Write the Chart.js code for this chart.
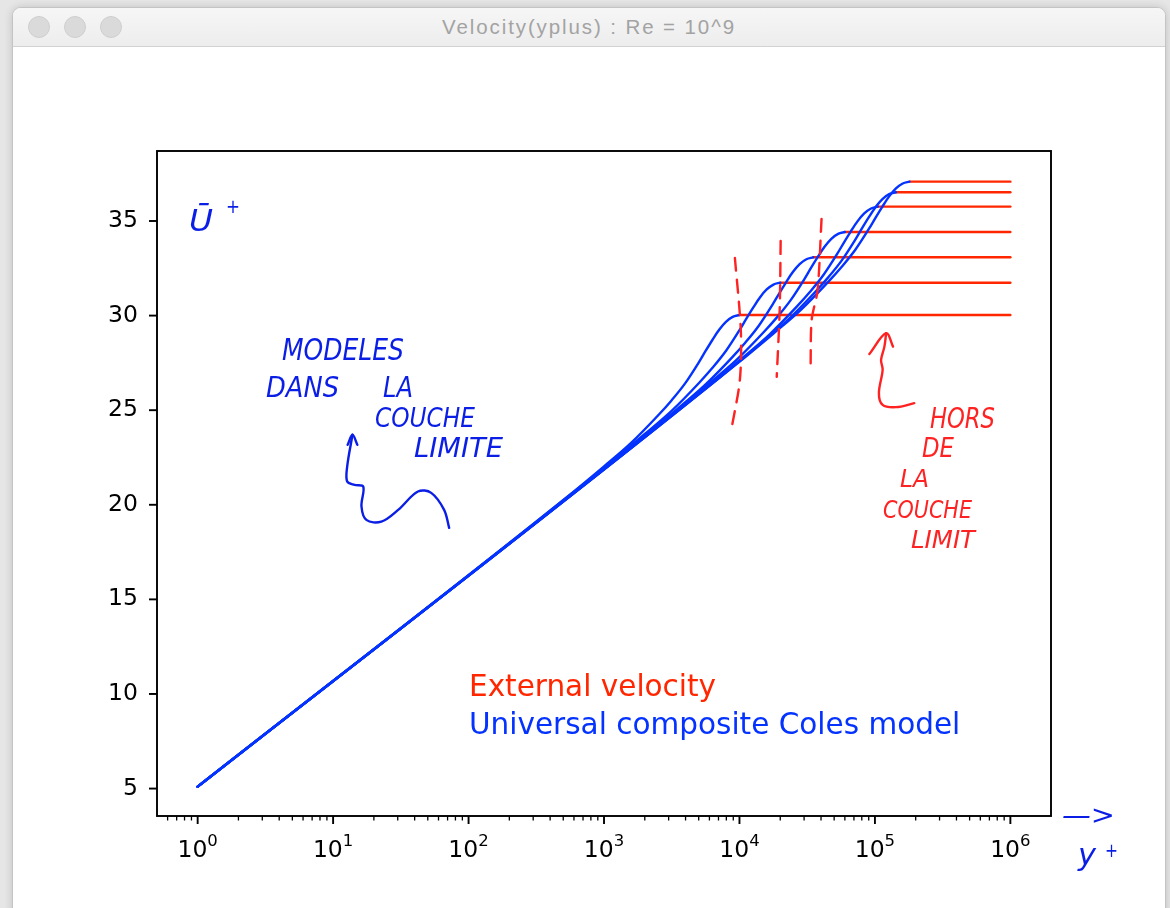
<!DOCTYPE html>
<html>
<head>
<meta charset="utf-8">
<title>Velocity(yplus) : Re = 10^9</title>
<script src="https://cdn.jsdelivr.net/npm/chart.js@4.4.1/dist/chart.umd.min.js"></script>
<style>
  html, body { margin: 0; padding: 0; }
  body { width: 1170px; height: 908px; overflow: hidden; background: #e6e6e6; position: relative; font-family: "Liberation Sans", Arial, sans-serif; }
  .window { position: absolute; left: 12px; top: 7px; width: 1152px; height: 930px; background: #fff; border: 1px solid #c4c4c4; border-radius: 9px 9px 0 0; box-shadow: 0 0 9px rgba(0,0,0,0.16); overflow: hidden; }
  .titlebar { height: 38px; background: linear-gradient(#f6f6f6, #ededed); border-bottom: 1px solid #d2d2d2; position: relative; }
  .light { position: absolute; top: 8px; width: 22px; height: 22px; border-radius: 50%; background: #dadada; border: 1px solid #cecece; box-sizing: border-box; }
  .title { position: absolute; left: 0; right: 0; top: 0; line-height: 38px; text-align: center; color: #a3a3a3; font-size: 20.5px; letter-spacing: 1.9px; }
  #chartBox { position: absolute; left: 0; top: 39px; }
</style>
</head>
<body>
<div class="window">
  <div class="titlebar">
    <div class="light" style="left:15px"></div>
    <div class="light" style="left:51px"></div>
    <div class="light" style="left:87px"></div>
    <div class="title">Velocity(yplus) : Re = 10^9</div>
  </div>
  <div id="chartBox"><canvas id="colesChart" width="1152" height="861"></canvas></div>
</div>
<script>
// --- ticks ---
const xTickMajor = [1, 10, 100, 1000, 1e4, 1e5, 1e6];
const xTickBase = '10';
const xTickExp = ['0', '1', '2', '3', '4', '5', '6'];
const yTicks = [5, 10, 15, 20, 25, 30, 35];

// --- universal composite Coles model, [y+, U+] ---
const coles1 = [[1, 5.1], [501, 20.25], [1000, 22.03], [1585, 23.27], [2512, 24.73], [3162, 25.53], [3981, 26.43],
  [5012, 27.53], [5623, 28.13], [6310, 28.71], [7079, 29.25], [7943, 29.67], [8913, 29.93], [10000, 30.03]];
const coles2 = [[1, 5.1], [1000, 21.96], [2000, 23.74], [3170, 24.98], [5024, 26.44], [6324, 27.24], [7962, 28.14],
  [10024, 29.24], [11246, 29.84], [12620, 30.42], [14158, 30.96], [15886, 31.38], [17826, 31.64], [20000, 31.74]];
const coles3 = [[1, 5.1], [1754, 23.30], [3500, 25.08], [5548, 26.32], [8792, 27.78], [11067, 28.58], [13934, 29.48],
  [17542, 30.58], [19681, 31.18], [22085, 31.76], [24777, 32.30], [27801, 32.72], [31196, 32.98], [35000, 33.08]];
const coles4 = [[1, 5.1], [3006, 24.64], [6000, 26.42], [9510, 27.66], [15072, 29.12], [18972, 29.92], [23886, 30.82],
  [30072, 31.92], [33738, 32.52], [37860, 33.10], [42474, 33.64], [47658, 34.06], [53478, 34.32], [60000, 34.42]];
const coles5 = [[1, 5.1], [5261, 25.98], [10500, 27.76], [16643, 29.00], [26376, 30.46], [33201, 31.26], [41801, 32.16],
  [52626, 33.26], [59042, 33.86], [66255, 34.44], [74330, 34.98], [83402, 35.40], [93587, 35.66], [105000, 35.76]];
const coles6 = [[1, 5.1], [7164, 26.74], [14300, 28.52], [22666, 29.76], [35922, 31.22], [45217, 32.02], [56928, 32.92],
  [71672, 34.02], [80409, 34.62], [90230, 35.20], [101229, 35.74], [113585, 36.16], [127456, 36.42], [143000, 36.52]];
const coles7 = [[1, 5.1], [9018, 27.30], [18000, 29.08], [28530, 30.32], [45216, 31.78], [56916, 32.58], [71658, 33.48],
  [90216, 34.58], [101214, 35.18], [113580, 35.76], [127422, 36.30], [142974, 36.72], [160434, 36.98], [180000, 37.08]];
const colesCurves = [coles1, coles2, coles3, coles4, coles5, coles6, coles7];

// --- external velocity: from the edge of the layer to y+ = 1e6 ---
const extStart = [1.0e4, 2.0e4, 3.5e4, 6.0e4, 1.05e5, 1.43e5, 1.8e5];
const extVelocity = [30.03, 31.74, 33.08, 34.42, 35.76, 36.52, 37.08];
const extEnd = 1e6;

// --- hand drawn marks (data units) ---
const dashA = [[9250, 33.05], [10230, 29.24], [10070, 26.60], [8790, 24.12]];
const dashB = [[20140, 33.94], [19810, 30.30], [18840, 26.76]];
const dashC = [[40360, 35.11], [37730, 31.35], [34120, 29.77], [33510, 27.34]];
const blueHook = [[71.9, 18.78], [66.0, 19.73], [53.0, 20.63], [42.3, 20.70], [30.2, 19.73], [22.7, 19.11], [17.6, 19.20],
  [16.2, 19.91], [16.7, 20.96], [14.4, 21.05], [12.7, 21.23], [12.7, 22.02], [13.9, 23.70]];
const blueHookHead = [[12.8, 23.17], [13.9, 23.70], [15.1, 23.17]];
const redHook = [[1.95e5, 25.37], [1.43e5, 25.16], [1.14e5, 25.28], [1.07e5, 25.90], [1.14e5, 27.13], [1.11e5, 27.66],
  [1.175e5, 28.36], [1.21e5, 29.07]];
const redHookHead = [[9.1e4, 27.97], [1.21e5, 29.07], [1.36e5, 28.36]];

// --- handwritten notes (canvas px) ---
const BLUE_INK = '#0a1ee6', RED_INK = '#ff2222';
const notes = [
  { t: 'Ū', x: 176, y: 184, w: 24, s: 30, c: BLUE_INK },
  { t: '+', x: 213, y: 166, w: 14, s: 20, c: BLUE_INK },
  { t: 'MODELES', x: 269, y: 313, w: 122, s: 30, c: BLUE_INK },
  { t: 'DANS', x: 253, y: 350, w: 73, s: 28, c: BLUE_INK },
  { t: 'LA', x: 370, y: 350, w: 30, s: 28, c: BLUE_INK },
  { t: 'COUCHE', x: 362, y: 380, w: 100, s: 26, c: BLUE_INK },
  { t: 'LIMITE', x: 401, y: 410, w: 89, s: 26, c: BLUE_INK },
  { t: '—>', x: 1049, y: 777, w: 53, s: 26, c: BLUE_INK },
  { t: 'y', x: 1065, y: 818, w: 18, s: 31, c: BLUE_INK },
  { t: '+', x: 1092, y: 810, w: 13, s: 19, c: BLUE_INK },
  { t: 'HORS', x: 917, y: 381, w: 65, s: 29, c: RED_INK },
  { t: 'DE', x: 909, y: 410, w: 32, s: 26, c: RED_INK },
  { t: 'LA', x: 887, y: 440, w: 29, s: 24, c: RED_INK },
  { t: 'COUCHE', x: 870, y: 471, w: 89, s: 24, c: RED_INK },
  { t: 'LIMIT', x: 898, y: 501, w: 64, s: 24, c: RED_INK }
];

const BLUE = '#0433ff', RED = '#ff2600';
const toXY = arr => arr.map(p => ({ x: p[0], y: p[1] }));

const datasets = [];
extStart.forEach((x0, i) => {
  datasets.push({ data: [{ x: x0, y: extVelocity[i] }, { x: extEnd, y: extVelocity[i] }],
    borderColor: RED, borderWidth: 2.4, order: 3 });
});
colesCurves.forEach(c => {
  datasets.push({ data: toXY(c), borderColor: BLUE, borderWidth: 2.4, cubicInterpolationMode: 'monotone', order: 2 });
});
[dashA, dashB, dashC].forEach(d => {
  datasets.push({ data: toXY(d), borderColor: RED_INK, borderWidth: 2.4, borderDash: [13, 9], tension: 0.3, order: 1 });
});
[[blueHook, BLUE_INK], [blueHookHead, BLUE_INK], [redHook, RED_INK], [redHookHead, RED_INK]].forEach(([d, c]) => {
  datasets.push({ data: toXY(d), borderColor: c, borderWidth: 2.4, tension: 0.35, order: 1 });
});

// frame, tick marks, x labels (10 with raised exponent), legend text and notes
const decorations = {
  id: 'decorations',
  afterDraw(chart) {
    const ctx = chart.ctx, a = chart.chartArea;
    const xs = chart.scales.x, ys = chart.scales.y;
    ctx.save();
    ctx.strokeStyle = '#000';
    xs.ticks.forEach(t => {
      const px = xs.getPixelForValue(t.value);
      const major = xTickMajor.includes(t.value);
      ctx.lineWidth = major ? 1.9 : 1.3;
      ctx.beginPath();
      ctx.moveTo(px, a.bottom);
      ctx.lineTo(px, a.bottom + (major ? 8 : 4.5));
      ctx.stroke();
    });
    ys.ticks.forEach(t => {
      const py = ys.getPixelForValue(t.value);
      ctx.lineWidth = 1.9;
      ctx.beginPath();
      ctx.moveTo(a.left, py);
      ctx.lineTo(a.left - 8, py);
      ctx.stroke();
    });
    ctx.lineWidth = 1.9;
    ctx.strokeRect(a.left, a.top, a.right - a.left, a.bottom - a.top);

    // x tick labels
    ctx.fillStyle = '#000';
    ctx.textAlign = 'left';
    ctx.textBaseline = 'alphabetic';
    xTickMajor.forEach((v, i) => {
      const px = xs.getPixelForValue(v);
      ctx.font = '23.5px "DejaVu Sans"';
      const wb = ctx.measureText(xTickBase).width;
      ctx.font = '16.5px "DejaVu Sans"';
      const we = ctx.measureText(xTickExp[i]).width;
      const x0 = px - (wb + we) / 2;
      ctx.font = '23.5px "DejaVu Sans"';
      ctx.fillText(xTickBase, x0, a.bottom + 41);
      ctx.font = '16.5px "DejaVu Sans"';
      ctx.fillText(xTickExp[i], x0 + wb, a.bottom + 30);
    });

    // legend (text only, like the matplotlib one)
    ctx.font = '29.5px "DejaVu Sans"';
    ctx.fillStyle = RED;
    ctx.fillText('External velocity', a.left + 312, a.top + 545);
    ctx.fillStyle = BLUE;
    ctx.fillText('Universal composite Coles model', a.left + 312, a.top + 583);

    // handwritten notes
    notes.forEach(n => {
      ctx.font = 'italic ' + n.s + 'px "DejaVu Sans"';
      const w = ctx.measureText(n.t).width;
      ctx.save();
      ctx.translate(n.x, n.y);
      ctx.scale(n.w / w, 1);
      ctx.fillStyle = n.c;
      ctx.fillText(n.t, 0, 0);
      ctx.restore();
    });
    ctx.restore();
  }
};

new Chart(document.getElementById('colesChart'), {
  type: 'line',
  data: { datasets: datasets },
  options: {
    responsive: false,
    animation: false,
    events: [],
    layout: { padding: { top: 104, right: 114, left: 0, bottom: 0 } },
    elements: { point: { radius: 0 }, line: { borderCapStyle: 'round' } },
    plugins: { legend: { display: false }, tooltip: { enabled: false } },
    scales: {
      x: {
        type: 'logarithmic',
        min: 0.501, max: 1.995e6,
        grid: { display: false, drawTicks: false },
        border: { display: false },
        afterBuildTicks: s => {
          const vals = [];
          [0.1, ...xTickMajor].forEach(m => {
            for (let k = 1; k < 10; k++) {
              const v = m * k;
              if (v >= s.min && v <= s.max) vals.push(v);
            }
          });
          s.ticks = vals.map(v => ({ value: v, major: xTickMajor.includes(v) }));
        },
        afterFit: s => { s.height = 92; },
        ticks: { autoSkip: false, maxRotation: 0, callback: () => '' }
      },
      y: {
        type: 'linear',
        min: 3.55, max: 38.7,
        grid: { display: false, drawTicks: false },
        border: { display: false },
        afterBuildTicks: s => { s.ticks = yTicks.map(v => ({ value: v })); },
        afterFit: s => { s.width = 144; },
        ticks: { padding: 19, color: '#000', font: { family: 'DejaVu Sans', size: 23.5 } }
      }
    }
  },
  plugins: [decorations]
});
</script>
</body>
</html>
